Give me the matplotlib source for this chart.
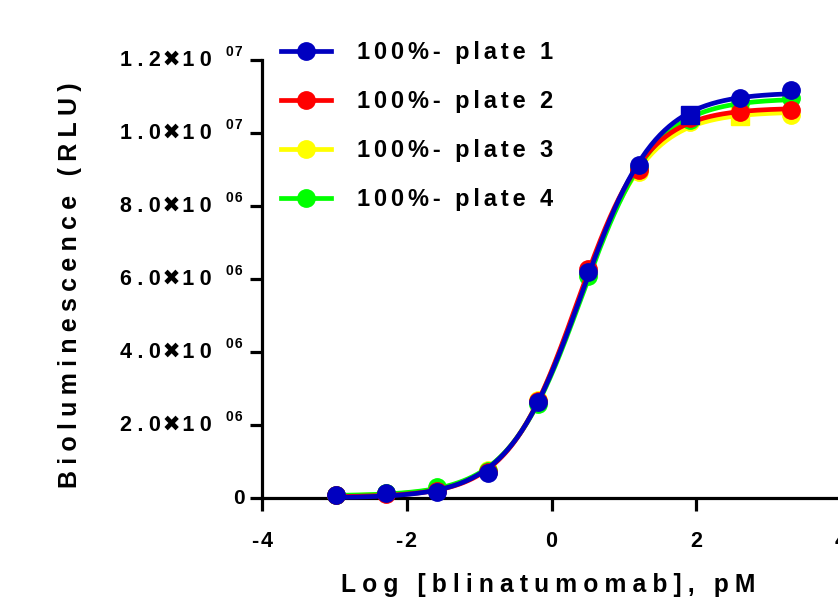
import numpy as np
import matplotlib
matplotlib.use("Agg")
import matplotlib.pyplot as plt
from matplotlib.lines import Line2D

plt.rcParams['font.family'] = ['Liberation Sans', 'DejaVu Sans']
plt.rcParams['font.weight'] = 'bold'

# ---------------- data ----------------
log_conc = [-2.98, -2.28, -1.58, -0.88, -0.19, 0.51, 1.21, 1.91, 2.61, 3.31]
plate1 = [0.08e6, 0.14e6, 0.16e6, 0.68e6, 2.63e6, 6.19e6, 9.12e6, 10.49e6, 10.96e6, 11.18e6]
plate2 = [0.08e6, 0.12e6, 0.18e6, 0.70e6, 2.66e6, 6.27e6, 8.99e6, 10.41e6, 10.58e6, 10.63e6]
plate3 = [0.09e6, 0.13e6, 0.22e6, 0.76e6, 2.68e6, 6.14e6, 8.93e6, 10.30e6, 10.47e6, 10.49e6]
plate4 = [0.09e6, 0.13e6, 0.30e6, 0.74e6, 2.58e6, 6.08e6, 9.04e6, 10.35e6, 10.82e6, 10.96e6]
labels = ["100%- plate 1", "100%- plate 2", "100%- plate 3", "100%- plate 4"]
colors = ["#0000C0", "#FF0000", "#FFFF00", "#00FF00"]
square_idx = [[7], [], [8], []]   # points drawn with a square symbol
x_ticks = [-4, -2, 0, 2, 4]
y_ticks = [0, 2e6, 4e6, 6e6, 8e6, 10e6, 12e6]

series = [plate1, plate2, plate3, plate4]


def fit4pl(x, y):
    x = np.asarray(x); y = np.asarray(y)
    ec = np.arange(-0.5, 1.5, 0.005)
    hs = np.arange(0.4, 1.6, 0.005)
    E, H = np.meshgrid(ec, hs, indexing='ij')
    F = 1.0 / (1.0 + 10 ** ((E[..., None] - x) * H[..., None]))
    fm = F.mean(-1, keepdims=True); ym = y.mean()
    slope = ((F - fm) * (y - ym)).sum(-1) / ((F - fm) ** 2).sum(-1)
    inter = ym - slope * fm[..., 0]
    res = ((inter[..., None] + slope[..., None] * F - y) ** 2).sum(-1)
    i, j = np.unravel_index(np.argmin(res), res.shape)
    return inter[i, j], inter[i, j] + slope[i, j], ec[i], hs[j]


def spaced(s, sep='\u2009'):
    return sep.join(s)


fig = plt.figure(figsize=(8.38, 6.08), dpi=100)
ax = fig.add_axes([262 / 838, 1 - 498 / 608, (841 - 262) / 838, (498 - 60) / 608])
ax.set_xlim(-4, 4)
ax.set_ylim(0, 1.2e7)

zorders = [6, 5, 3, 4]
handles = []
for vals, col, lab, sq, z in zip(series, colors, labels, square_idx, zorders):
    b, t, ec50, hill = fit4pl(log_conc, vals)
    xs = np.linspace(log_conc[0], log_conc[-1], 300)
    ys = b + (t - b) / (1 + 10 ** ((ec50 - xs) * hill))
    ax.plot(xs, ys, color=col, lw=3.4, zorder=z, clip_on=False, solid_capstyle='butt')
    circ = [i for i in range(len(log_conc)) if i not in sq]
    ax.plot([log_conc[i] for i in circ], [vals[i] for i in circ], 'o', color=col,
            ms=12.5, zorder=z, clip_on=False)
    if sq:
        ax.plot([log_conc[i] for i in sq], [vals[i] for i in sq], 's', color=col,
                ms=12.5, zorder=z, clip_on=False)
    handles.append(Line2D([], [], color=col, lw=3.4, marker='o', ms=12.5))

for s in ['top', 'right']:
    ax.spines[s].set_visible(False)
for s in ['left', 'bottom']:
    ax.spines[s].set_linewidth(2.3)
    ax.spines[s].set_zorder(2)

ax.set_xticks(x_ticks)
ax.set_xticklabels([spaced(str(v), '\u200a') for v in x_ticks])
ax.set_yticks(y_ticks)
ax.set_yticklabels([])
ax.tick_params(axis='both', width=2.3, length=9, labelsize=15.5, direction='out')
ax.tick_params(axis='x', pad=15)
for lab in ax.get_xticklabels():
    lab.set_fontweight('bold')

# y tick labels in the Prism "m x 10^e" style
ytr = ax.get_yaxis_transform()
for v in y_ticks:
    if v == 0:
        ax.annotate('0', xy=(0, v), xycoords=ytr, xytext=(-12.5, -0.5), textcoords='offset points',
                    ha='right', va='center', fontsize=15, fontweight='bold', annotation_clip=False)
        continue
    e = int(np.floor(np.log10(v)))
    m = v / 10 ** e
    main = spaced(f"{m:.1f}", '\u2005') + '\u200a\u2716\u200a' + spaced('10', '\u2005')
    ax.annotate(main, xy=(0, v), xycoords=ytr, xytext=(-36, -0.3), textcoords='offset points',
                ha='right', va='center', fontsize=15.5, fontweight='bold', annotation_clip=False)
    ax.annotate(spaced(f"{e:02d}", '\u200a'), xy=(0, v), xycoords=ytr, xytext=(-14.2, 5.8),
                textcoords='offset points', ha='right', va='center', fontsize=10,
                fontweight='bold', annotation_clip=False)

fig.text(548 / 838, 1 - 585 / 608, spaced("Log [blinatumomab], pM", '\u2005'), ha='center', va='center',
         fontsize=17.7, fontweight='bold')
fig.text(70 / 838, 1 - 285 / 608, spaced("Bioluminescence (RLU)", '\u2005'), ha='center', va='center',
         rotation=90, fontsize=18, fontweight='bold')

leg = fig.legend(handles, [spaced(l, '\u2006') for l in labels], loc='upper left',
                 bbox_to_anchor=(281 / 838, 1 - 41 / 608), frameon=False,
                 handlelength=2.1, handletextpad=1.1, labelspacing=1.1, borderpad=0,
                 borderaxespad=0, prop={'weight': 'bold', 'size': 17})

fig.savefig('out.png', dpi=100)
